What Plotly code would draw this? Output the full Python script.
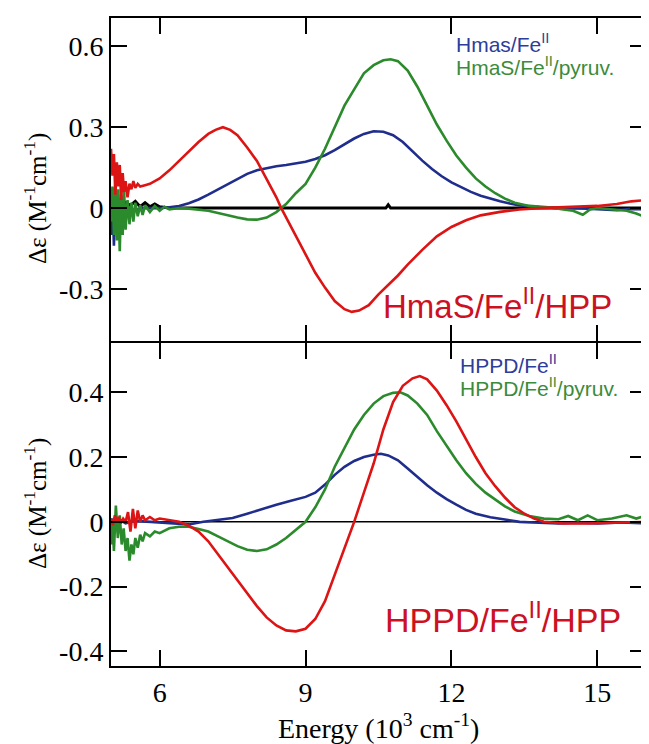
import plotly.graph_objects as go
from plotly.subplots import make_subplots

# ---------------- data: top panel (HmaS) ----------------
top_red_x = [5.00,5.03,5.06,5.09,5.12,5.15,5.18,5.21,5.24,5.27,5.30,5.34,5.38,5.42,5.46,5.50,5.55,5.60,5.70,5.80,5.90,6.00,6.20,6.40,6.60,6.80,7.00,7.15,7.30,7.45,7.60,7.80,8.00,8.20,8.40,8.50,8.60,8.80,9.00,9.20,9.40,9.60,9.80,9.95,10.10,10.30,10.50,10.70,10.90,11.10,11.40,11.70,12.00,12.30,12.60,13.00,13.40,13.80,14.20,14.60,15.00,15.40,15.70,16.00]
top_red_y = [0.22,0.12,0.20,0.05,0.17,0.08,0.16,0.03,0.13,0.06,0.10,0.04,0.09,0.07,0.10,0.075,0.09,0.08,0.085,0.09,0.10,0.11,0.14,0.175,0.21,0.245,0.275,0.29,0.30,0.29,0.27,0.225,0.175,0.11,0.04,0.0,-0.035,-0.10,-0.17,-0.24,-0.295,-0.345,-0.375,-0.385,-0.38,-0.36,-0.32,-0.285,-0.25,-0.21,-0.155,-0.105,-0.07,-0.045,-0.027,-0.014,-0.005,0.0,0.002,0.005,0.008,0.015,0.025,0.03]

top_blue_x = [5.00,5.03,5.06,5.09,5.12,5.15,5.20,5.25,5.30,5.40,5.50,5.60,5.80,6.00,6.20,6.40,6.60,6.80,7.00,7.20,7.40,7.60,7.80,8.00,8.20,8.40,8.60,8.80,9.00,9.20,9.40,9.60,9.80,10.00,10.20,10.40,10.60,10.80,11.00,11.20,11.40,11.60,11.80,12.00,12.20,12.40,12.60,12.80,13.00,13.20,13.40,13.80,14.20,14.60,15.00,15.40,15.70,16.00]
top_blue_y = [-0.10,0.05,-0.14,0.03,-0.08,0.02,-0.05,0.01,-0.03,0.0,-0.01,0.0,0.0,0.0,0.003,0.008,0.018,0.032,0.05,0.07,0.09,0.11,0.127,0.14,0.148,0.155,0.16,0.166,0.172,0.182,0.196,0.215,0.238,0.258,0.275,0.285,0.283,0.27,0.245,0.21,0.176,0.145,0.118,0.095,0.076,0.06,0.046,0.035,0.025,0.017,0.01,0.004,0.0,0.0,-0.003,-0.008,-0.003,-0.005]

top_green_x = [5.00,5.03,5.06,5.09,5.12,5.15,5.18,5.21,5.24,5.27,5.30,5.34,5.38,5.42,5.46,5.50,5.55,5.60,5.65,5.70,5.80,5.90,6.00,6.10,6.20,6.40,6.60,6.80,7.00,7.20,7.40,7.60,7.80,8.00,8.20,8.40,8.60,8.80,9.00,9.20,9.40,9.60,9.80,10.00,10.20,10.40,10.60,10.75,10.90,11.10,11.30,11.50,11.70,11.90,12.10,12.30,12.50,12.70,12.90,13.10,13.30,13.60,14.00,14.30,14.50,14.70,14.85,15.00,15.30,15.60,15.80,16.00]
top_green_y = [-0.05,0.08,-0.10,0.10,-0.12,0.07,-0.16,0.05,-0.10,0.06,-0.08,0.03,-0.06,0.02,-0.05,0.02,-0.03,0.01,-0.025,0.01,-0.015,0.008,-0.01,0.005,-0.005,0.0,-0.002,-0.005,-0.01,-0.018,-0.027,-0.035,-0.042,-0.043,-0.035,-0.015,0.015,0.055,0.09,0.15,0.22,0.30,0.38,0.44,0.50,0.53,0.548,0.552,0.545,0.51,0.45,0.38,0.31,0.25,0.195,0.15,0.11,0.08,0.055,0.035,0.02,0.008,0.003,-0.005,-0.01,-0.025,-0.005,0.0,-0.005,-0.01,-0.02,-0.035]

top_black_x = [5.00,5.05,5.10,5.15,5.20,5.30,5.40,5.50,5.60,5.70,5.80,5.90,6.00,6.20,10.65,10.70,10.75,16.00]
top_black_y = [-0.02,0.02,-0.03,0.015,-0.02,0.02,0.01,0.025,0.005,0.02,0.005,0.015,0.005,0.0,0.0,0.012,0.0,0.0]

# ---------------- data: bottom panel (HPPD) ----------------
bot_red_x = [5.00,5.04,5.08,5.12,5.16,5.20,5.25,5.30,5.35,5.40,5.45,5.50,5.55,5.60,5.65,5.70,5.80,5.90,6.00,6.20,6.40,6.60,6.80,7.00,7.20,7.40,7.60,7.80,8.00,8.20,8.40,8.60,8.80,9.00,9.20,9.40,9.60,9.80,10.00,10.20,10.40,10.60,10.80,11.00,11.20,11.35,11.50,11.70,11.90,12.10,12.30,12.50,12.70,12.90,13.10,13.30,13.50,13.70,13.90,14.30,14.80,15.30,16.00]
bot_red_y = [0.01,-0.01,0.02,0.0,0.015,-0.005,0.01,0.0,0.03,-0.03,0.04,-0.02,0.035,0.0,0.02,0.005,0.015,0.005,0.01,0.005,0.0,-0.012,-0.03,-0.06,-0.10,-0.14,-0.18,-0.22,-0.26,-0.295,-0.32,-0.335,-0.338,-0.33,-0.30,-0.245,-0.165,-0.08,0.0,0.09,0.18,0.285,0.37,0.42,0.443,0.45,0.44,0.405,0.36,0.31,0.255,0.20,0.15,0.11,0.075,0.045,0.025,0.01,0.0,-0.005,-0.005,-0.003,0.0]

bot_blue_x = [5.00,5.10,5.20,5.30,5.50,5.80,6.00,6.30,6.60,6.90,7.20,7.50,7.80,8.10,8.40,8.70,9.00,9.20,9.40,9.60,9.80,10.00,10.20,10.40,10.55,10.70,10.90,11.10,11.30,11.50,11.70,11.90,12.10,12.30,12.50,12.80,13.10,13.40,13.80,14.20,14.60,15.00,15.50,16.00]
bot_blue_y = [0.01,-0.01,0.005,-0.005,0.003,0.0,0.0,-0.005,-0.008,0.0,0.005,0.012,0.025,0.04,0.053,0.065,0.077,0.09,0.115,0.145,0.17,0.188,0.20,0.207,0.21,0.205,0.19,0.165,0.138,0.113,0.09,0.07,0.053,0.037,0.025,0.014,0.007,0.0,-0.003,-0.005,-0.003,-0.005,-0.002,-0.005]

bot_green_x = [5.00,5.03,5.06,5.10,5.14,5.18,5.22,5.26,5.30,5.34,5.38,5.42,5.46,5.50,5.55,5.60,5.65,5.70,5.80,5.90,6.00,6.20,6.40,6.60,6.80,7.00,7.20,7.40,7.60,7.80,8.00,8.20,8.40,8.60,8.80,9.00,9.20,9.40,9.60,9.80,10.00,10.20,10.40,10.60,10.80,10.95,11.10,11.30,11.50,11.70,11.90,12.10,12.30,12.50,12.70,12.90,13.10,13.30,13.60,13.90,14.20,14.40,14.60,14.80,15.00,15.30,15.60,15.80,16.00]
bot_green_y = [-0.07,0.0,-0.09,0.05,-0.05,0.02,-0.07,-0.02,-0.09,-0.05,-0.12,-0.07,-0.10,-0.05,-0.08,-0.04,-0.06,-0.035,-0.045,-0.03,-0.035,-0.02,-0.015,-0.015,-0.022,-0.03,-0.045,-0.06,-0.075,-0.086,-0.09,-0.085,-0.07,-0.05,-0.025,0.0,0.045,0.10,0.17,0.23,0.285,0.33,0.365,0.388,0.398,0.40,0.39,0.365,0.33,0.28,0.235,0.19,0.15,0.117,0.09,0.068,0.048,0.032,0.018,0.01,0.008,0.018,0.005,0.02,0.005,0.01,0.02,0.01,0.02]

bot_black_x = [5.0, 16.0]
bot_black_y = [0.0, 0.0]

x_ticks = [6, 9, 12, 15]
top_y_ticks = [0.6, 0.3, 0, -0.3]
top_y_labels = ["0.6", "0.3", "0", "-0.3"]
bot_y_ticks = [0.4, 0.2, 0, -0.2, -0.4]
bot_y_labels = ["0.4", "0.2", "0", "-0.2", "-0.4"]

RED = "#dd1414"
BLUE = "#1f2d8c"
GREEN = "#2b8a2b"
RED_T = "#cc1122"
BLUE_T = "#2e3d9a"
GREEN_T = "#3b8b3b"

W, H = 649, 744
L, R, T, B = 103, 11, 10, 86
PW, PH = W - L - R, H - T - B


def px(xp):
    return (xp - L) / PW


def py(yp):
    return (H - B - yp) / PH


fig = make_subplots(rows=2, cols=1, vertical_spacing=0)

lw = 2.6
fig.add_trace(go.Scatter(x=top_black_x, y=top_black_y, mode="lines", line=dict(color="black", width=3)), row=1, col=1)
fig.add_trace(go.Scatter(x=top_blue_x, y=top_blue_y, mode="lines", line=dict(color=BLUE, width=lw)), row=1, col=1)
fig.add_trace(go.Scatter(x=top_green_x, y=top_green_y, mode="lines", line=dict(color=GREEN, width=lw)), row=1, col=1)
fig.add_trace(go.Scatter(x=top_red_x, y=top_red_y, mode="lines", line=dict(color=RED, width=lw)), row=1, col=1)

fig.add_trace(go.Scatter(x=bot_black_x, y=bot_black_y, mode="lines", line=dict(color="black", width=1.5)), row=2, col=1)
fig.add_trace(go.Scatter(x=bot_blue_x, y=bot_blue_y, mode="lines", line=dict(color=BLUE, width=lw)), row=2, col=1)
fig.add_trace(go.Scatter(x=bot_green_x, y=bot_green_y, mode="lines", line=dict(color=GREEN, width=lw)), row=2, col=1)
fig.add_trace(go.Scatter(x=bot_red_x, y=bot_red_y, mode="lines", line=dict(color=RED, width=lw)), row=2, col=1)

tickfont = dict(family="Liberation Serif", size=28, color="black")
common = dict(showline=True, linecolor="black", linewidth=2, mirror="ticks", ticks="inside",
              ticklen=16, tickwidth=2, tickcolor="black", showgrid=False, zeroline=False,
              tickfont=tickfont, automargin=False)

fig.update_xaxes(range=[5, 16], tickvals=x_ticks, **common)
fig.update_xaxes(showticklabels=False, row=1, col=1)
fig.update_xaxes(ticktext=[str(v) for v in x_ticks], row=2, col=1)
fig.update_yaxes(**common)
fig.update_yaxes(range=[-0.493, 0.705], tickvals=top_y_ticks, ticktext=top_y_labels, row=1, col=1)
fig.update_yaxes(range=[-0.445, 0.552], tickvals=bot_y_ticks, ticktext=bot_y_labels, row=2, col=1)
# panels touch; domains offset so the two frame lines overlap into one
fig.update_layout(yaxis=dict(domain=[py(333), 1.0]), yaxis2=dict(domain=[0.0, py(335)]))

ann = []
def text(x, y, s, size, color, family="Liberation Sans", xanchor="left", angle=0):
    ann.append(dict(x=x, y=y, xref="paper", yref="paper", text=s, showarrow=False,
                    xanchor=xanchor, yanchor="middle", textangle=angle,
                    font=dict(family=family, size=size, color=color)))

text(px(446), py(35), "Hmas/Fe<sup>II</sup>", 21, BLUE_T)
text(px(446), py(58), "HmaS/Fe<sup>II</sup>/pyruv.", 21, GREEN_T)
text(px(373), py(296), "HmaS/Fe<sup>II</sup>/HPP", 33, RED_T)
text(px(450), py(356), "HPPD/Fe<sup>II</sup>", 21, BLUE_T)
text(px(450), py(379), "HPPD/Fe<sup>II</sup>/pyruv.", 21, GREEN_T)
text(px(375), py(609), "HPPD/Fe<sup>II</sup>/HPP", 34, RED_T)

ylab = "Δε (M<sup>-1</sup>cm<sup>-1</sup>)"
text(px(27), py(191), ylab, 25, "black", family="Liberation Serif", xanchor="center", angle=-90)
text(px(27), py(496), ylab, 25, "black", family="Liberation Serif", xanchor="center", angle=-90)
text(px(370), py(718), "Energy (10<sup>3</sup> cm<sup>-1</sup>)", 28, "black", family="Liberation Serif", xanchor="center")

fig.update_layout(width=W, height=H, margin=dict(l=L, r=R, t=T, b=B), showlegend=False,
                  plot_bgcolor="white", paper_bgcolor="white", annotations=ann)

fig.write_html("out.html")
